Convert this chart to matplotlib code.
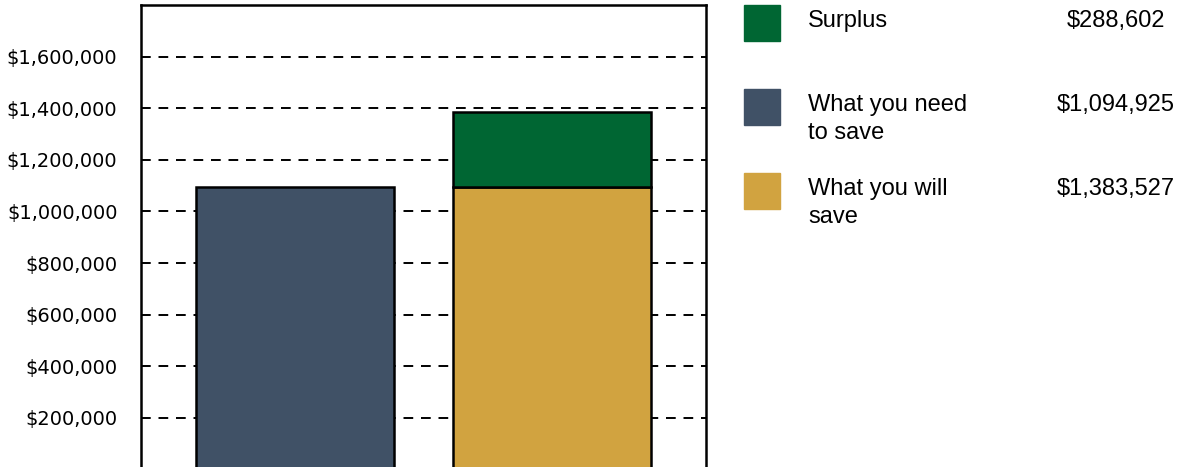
import matplotlib.pyplot as plt
from matplotlib.patches import Rectangle
from matplotlib.ticker import FuncFormatter

# data
bars = ["need", "will"]
need_to_save = 1094925
will_save = 1383527
surplus = 288602

legend_labels = [["Surplus"], ["What you need", "to save"], ["What you will", "save"]]
legend_values = [surplus, need_to_save, will_save]

green = "#006633"
slate = "#405166"
gold = "#D1A340"
legend_colors = [green, slate, gold]

fig = plt.figure(figsize=(11.9, 4.67), dpi=100)
ax = fig.add_axes([141 / 1190, -2.6 / 467, 565 / 1190, 464.6 / 467])

x = [0, 1]
ax.bar(x[0], need_to_save, width=0.77, color=slate, edgecolor="black", linewidth=1.8, zorder=3)
ax.bar(x[1], will_save - surplus, width=0.77, color=gold, edgecolor="black", linewidth=1.8, zorder=3)
ax.bar(x[1], surplus, bottom=will_save - surplus, width=0.77, color=green,
       edgecolor="black", linewidth=1.8, zorder=3)

ax.set_xlim(-0.6, 1.6)
ax.set_ylim(0, 1800000)
ax.set_yticks(range(200000, 1800000, 200000))
ax.yaxis.set_major_formatter(FuncFormatter(lambda v, p: "${:,.0f}".format(v)))
ax.set_xticks([])
ax.tick_params(axis="y", length=0, pad=17, labelsize=14)
for lab in ax.get_yticklabels():
    lab.set_fontfamily("DejaVu Sans")
ax.grid(axis="y", color="black", linestyle=(0, (5, 4)), linewidth=1.4, zorder=1)
for s in ax.spines.values():
    s.set_linewidth(1.8)

# legend drawn by hand
fam = "Liberation Sans"
for i in range(3):
    top = 5 + 84 * i
    fig.patches.append(Rectangle((744 / 1190, 1 - (top + 36) / 467), 36 / 1190, 36 / 467,
                                 transform=fig.transFigure, color=legend_colors[i]))
    for k, line in enumerate(legend_labels[i]):
        fig.text(808 / 1190, 1 - (top + 22 + 28 * k) / 467, line, fontsize=17,
                 family=fam, va="baseline", ha="left")
    fig.text(1116 / 1190, 1 - (top + 22) / 467, "${:,}".format(legend_values[i]),
             fontsize=17, family=fam, va="baseline", ha="center")

fig.savefig("out.png", dpi=100)
